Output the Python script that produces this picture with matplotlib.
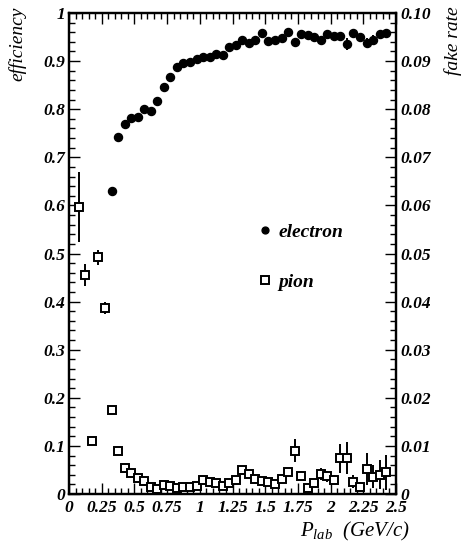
import numpy as np
import matplotlib
matplotlib.use("Agg")
import matplotlib.pyplot as plt
from matplotlib.ticker import MultipleLocator, FixedLocator

# electron efficiency, bins of 0.05 GeV/c
p_ele = np.arange(0.325, 2.45, 0.05)
eff_ele = [0.630, 0.742, 0.769, 0.781, 0.783, 0.801, 0.797, 0.818, 0.847,
           0.866, 0.888, 0.895, 0.899, 0.904, 0.908, 0.909, 0.915, 0.912,
           0.929, 0.933, 0.944, 0.938, 0.944, 0.959, 0.941, 0.944, 0.947,
           0.961, 0.939, 0.956, 0.954, 0.951, 0.944, 0.956, 0.952, 0.952,
           0.936, 0.958, 0.951, 0.937, 0.944, 0.956, 0.958]
err_ele = [0.004, 0.003, 0.003, 0.003, 0.003, 0.003, 0.003, 0.003, 0.003,
           0.003, 0.003, 0.003, 0.003, 0.003, 0.003, 0.003, 0.003, 0.003,
           0.003, 0.003, 0.003, 0.004, 0.004, 0.004, 0.004, 0.004, 0.004,
           0.005, 0.005, 0.005, 0.005, 0.005, 0.005, 0.006, 0.006, 0.006,
           0.012, 0.007, 0.007, 0.010, 0.010, 0.008, 0.008]

# pion fake rate
p_pi = np.arange(0.075, 2.45, 0.05)
fake_pi = [0.0597, 0.0455, 0.0110, 0.0492, 0.0387, 0.0175, 0.0089, 0.0055,
           0.0043, 0.0034, 0.0027, 0.0014, 0.0010, 0.0018, 0.0017, 0.0012,
           0.0015, 0.0015, 0.0017, 0.0030, 0.0026, 0.0022, 0.0017, 0.0022,
           0.0029, 0.0050, 0.0041, 0.0032, 0.0027, 0.0026, 0.0021, 0.0031,
           0.0046, 0.0090, 0.0038, 0.0012, 0.0022, 0.0042, 0.0037, 0.0030,
           0.0074, 0.0075, 0.0026, 0.0014, 0.0052, 0.0036, 0.0040, 0.0045]
err_pi = [0.0073, 0.0023, 0.0005, 0.0016, 0.0012, 0.0008, 0.0004, 0.0003,
          0.0003, 0.0003, 0.0003, 0.0002, 0.0002, 0.0003, 0.0003, 0.0003,
          0.0003, 0.0003, 0.0003, 0.0004, 0.0004, 0.0004, 0.0004, 0.0005,
          0.0005, 0.0006, 0.0006, 0.0006, 0.0006, 0.0006, 0.0006, 0.0008,
          0.0009, 0.0024, 0.0009, 0.0006, 0.0008, 0.0013, 0.0011, 0.0010,
          0.0031, 0.0033, 0.0013, 0.0010, 0.0033, 0.0024, 0.0030, 0.0036]

x_ticks = [0, 0.25, 0.5, 0.75, 1, 1.25, 1.5, 1.75, 2, 2.25, 2.5]
x_labels = ["0", "0.25", "0.5", "0.75", "1", "1.25", "1.5", "1.75", "2",
            "2.25", "2.5"]
y_labels = ["0", "0.1", "0.2", "0.3", "0.4", "0.5", "0.6", "0.7", "0.8",
            "0.9", "1"]
y2_labels = ["0", "0.01", "0.02", "0.03", "0.04", "0.05", "0.06", "0.07",
             "0.08", "0.09", "0.10"]

plt.rcParams['font.family'] = ['Liberation Serif', 'DejaVu Serif']
plt.rcParams['mathtext.fontset'] = 'custom'
plt.rcParams['mathtext.it'] = 'Liberation Serif:italic'
plt.rcParams['mathtext.rm'] = 'Liberation Serif:italic'

fig = plt.figure(figsize=(4.73, 5.48), dpi=100)
ax = fig.add_axes([0.1459, 0.0985, 0.6913, 0.8778])
ax2 = ax.twinx()

e = ax.errorbar(p_ele, eff_ele, yerr=err_ele, fmt='o', color='black',
                ms=5.8, elinewidth=1.4, capsize=0, label='electron')
pi = ax2.errorbar(p_pi, fake_pi, yerr=err_pi, fmt='s', color='black',
                  mfc='white', mec='black', mew=1.4, ms=6,
                  elinewidth=1.4, capsize=0, label='pion')

ax.set_xlim(0, 2.5)
ax.set_ylim(0, 1)
ax2.set_ylim(0, 0.1)

tick_font = dict(family='Liberation Serif', style='italic', weight='bold',
                 size=12.5)

ax.xaxis.set_major_locator(FixedLocator(x_ticks))
ax.set_xticklabels(x_labels, **tick_font)
ax.xaxis.set_minor_locator(MultipleLocator(0.05))
ax.yaxis.set_major_locator(FixedLocator(np.linspace(0, 1, 11)))
ax.set_yticklabels(y_labels, **tick_font)
ax.yaxis.set_minor_locator(MultipleLocator(0.02))
ax2.yaxis.set_major_locator(FixedLocator(np.linspace(0, 0.1, 11)))
ax2.set_yticklabels(y2_labels, **tick_font)
ax2.yaxis.set_minor_locator(MultipleLocator(0.002))

ax.tick_params(axis='both', which='both', direction='in', width=1.0)
ax.tick_params(axis='x', which='both', top=True)
ax.tick_params(which='major', length=8)
ax.tick_params(which='minor', length=4)
ax.tick_params(axis='x', pad=4)
ax.tick_params(axis='y', pad=3)
ax2.tick_params(axis='y', which='both', direction='in', width=1.0, pad=3)
ax2.tick_params(which='major', length=8)
ax2.tick_params(which='minor', length=4)

for a in (ax, ax2):
    for s in a.spines.values():
        s.set_linewidth(1.6)

fig.text(0.037, 0.988, "efficiency", rotation=90, ha='center', va='top',
         style='italic', size=14)
fig.text(0.958, 0.988, "fake rate", rotation=90, ha='center', va='top',
         style='italic', size=14)
fig.text(0.635, 0.03, "$P_{lab}$  (GeV/c)", ha='left', va='center',
         style='italic', size=15)

ax.legend([e[0], pi[0]], ['electron', 'pion'], loc='upper left',
          bbox_to_anchor=(0.515, 0.6), frameon=False, handletextpad=0.2,
          handlelength=1.0, labelspacing=1.7, markerscale=0.85,
          prop=dict(family='Liberation Serif', style='italic',
                    weight='bold', size=14))

fig.savefig("out.png", dpi=100)
